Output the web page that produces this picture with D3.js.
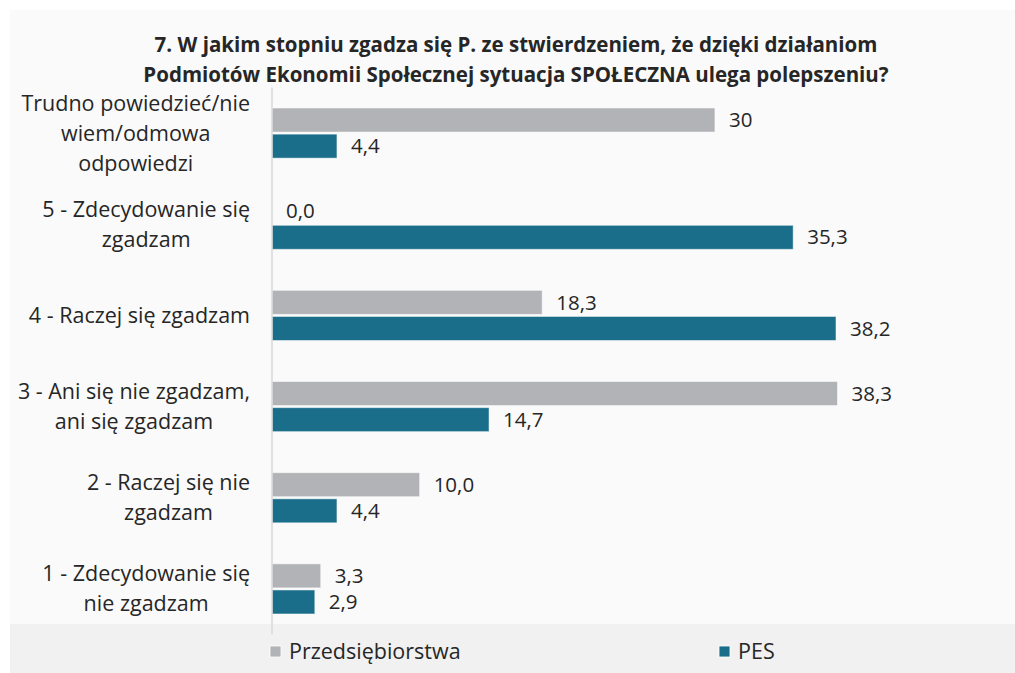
<!DOCTYPE html>
<html>
<head>
<meta charset="utf-8">
<script src="https://cdn.jsdelivr.net/npm/d3@7"></script>
<style>
  body { margin: 0; background: #fff; }
  text { font-family: "Open Sans", sans-serif; fill: #262626; }
</style>
</head>
<body>
<svg id="chart" width="1015" height="673"></svg>
<script>
// data
const categories = [
  "Trudno powiedzieć/nie|wiem/odmowa|odpowiedzi",
  "5 - Zdecydowanie się|zgadzam",
  "4 - Raczej się zgadzam",
  "3 - Ani się nie zgadzam,|ani się zgadzam",
  "2 - Raczej się nie|zgadzam",
  "1 - Zdecydowanie się|nie zgadzam"
];
const series = ["Przedsiębiorstwa", "PES"];
const przedValues = [30, 0.0, 18.3, 38.3, 10.0, 3.3];
const przedLabels = ["30", "0,0", "18,3", "38,3", "10,0", "3,3"];
const pesValues = [4.4, 35.3, 38.2, 14.7, 4.4, 2.9];
const pesLabels = ["4,4", "35,3", "38,2", "14,7", "4,4", "2,9"];
const titleLines = [
  "7. W jakim stopniu zgadza się P. ze stwierdzeniem, że dzięki działaniom",
  "Podmiotów Ekonomii Społecznej sytuacja SPOŁECZNA ulega polepszeniu?"
];
const colors = { "Przedsiębiorstwa": "#b2b3b6", "PES": "#1b6e8a" };

const svg = d3.select("#chart");
const W = 1015, H = 673;

// backgrounds
svg.append("rect").attr("x", 10).attr("y", 10).attr("width", W - 10).attr("height", H - 10).attr("fill", "#fafafa");
svg.append("rect").attr("x", 10).attr("y", 624).attr("width", W - 10).attr("height", H - 624).attr("fill", "#f1f1f1");

// title
svg.append("g").selectAll("text")
  .data(titleLines)
  .enter().append("text")
  .attr("x", 516)
  .attr("y", (d, i) => 52 + i * 30)
  .attr("text-anchor", "middle")
  .style("font-weight", "bold")
  .style("font-size", "20.5px")
  .text(d => d);

const x = d3.scaleLinear().domain([0, 38.2]).range([272, 836]);
const y0 = d3.scaleBand().domain(categories).range([87.5, 634.5]).paddingInner(0.45).paddingOuter(0.225);
const y1 = d3.scaleBand().domain(series).range([0, y0.bandwidth()]).paddingInner(0.08);

const rows = categories.map((c, i) => ({
  cat: c,
  bars: [
    { s: "Przedsiębiorstwa", v: przedValues[i], lab: przedLabels[i] },
    { s: "PES", v: pesValues[i], lab: pesLabels[i] }
  ]
}));

const g = svg.append("g");
const row = g.selectAll(".row").data(rows).enter().append("g")
  .attr("class", "row")
  .attr("transform", d => "translate(0," + y0(d.cat) + ")");

row.selectAll("rect").data(d => d.bars).enter().append("rect")
  .attr("x", x(0))
  .attr("y", d => y1(d.s))
  .attr("width", d => x(d.v) - x(0))
  .attr("height", y1.bandwidth())
  .attr("fill", d => colors[d.s])
  .attr("stroke", "#ffffff")
  .attr("stroke-opacity", 0.5)
  .attr("stroke-width", 1);

row.selectAll("text.val").data(d => d.bars).enter().append("text")
  .attr("class", "val")
  .attr("x", d => x(d.v) + 14)
  .attr("y", d => y1(d.s) + y1.bandwidth() / 2)
  .attr("dy", "0.35em")
  .style("font-size", "20.5px")
  .text(d => d.lab);

// axis line
svg.append("line")
  .attr("x1", x(0)).attr("x2", x(0))
  .attr("y1", 87.5).attr("y2", 634)
  .attr("stroke", "#d9d9d9").attr("stroke-width", 1.5);

// category labels: block right aligned at 250, lines centered in the block
categories.forEach(c => {
  const lines = c.split("|");
  const lg = svg.append("g");
  const texts = lg.selectAll("text").data(lines).enter().append("text")
    .style("font-size", "21.5px")
    .attr("text-anchor", "middle")
    .attr("dy", "0.35em")
    .attr("y", (d, i) => y0(c) + y0.bandwidth() / 2 + (i - (lines.length - 1) / 2) * 30)
    .text(d => d);
  let maxW = 0;
  texts.each(function () { maxW = Math.max(maxW, this.getComputedTextLength()); });
  texts.attr("x", 250 - maxW / 2);
});

// legend
const legendX = [270, 719];
const leg = svg.append("g").selectAll("g").data(series).enter().append("g")
  .attr("transform", (d, i) => "translate(" + legendX[i] + ",646)");
leg.append("rect").attr("width", 11).attr("height", 11).attr("fill", d => colors[d])
  .attr("stroke", "#fff").attr("stroke-width", 0.8);
leg.append("text").attr("x", 19).attr("y", 5.5).attr("dy", "0.35em")
  .style("font-size", "21.5px").text(d => d);
</script>
</body>
</html>
